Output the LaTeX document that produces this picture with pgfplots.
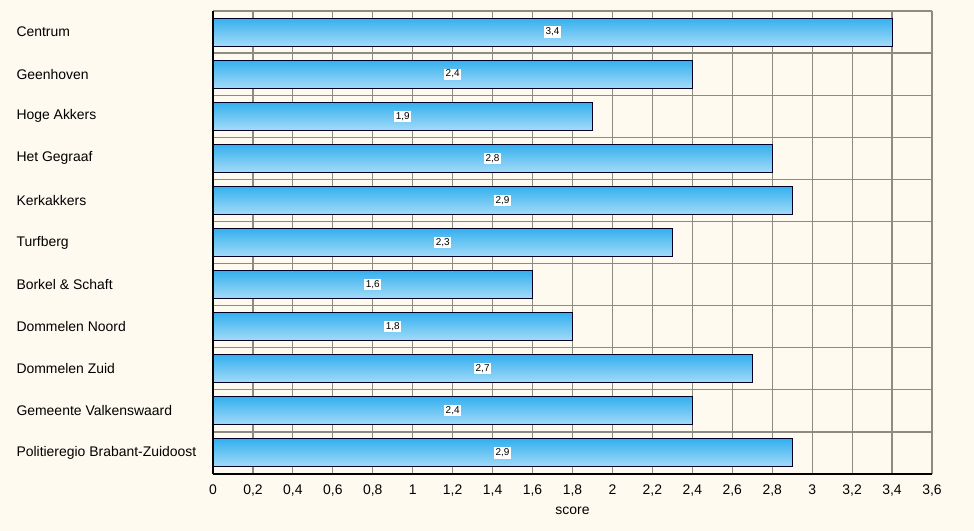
\documentclass[border=0pt]{standalone}
\usepackage{pgfplots}
\pgfplotsset{compat=1.18}
\usepackage{fontspec}
\setmainfont{Liberation Sans}
\definecolor{bg}{RGB}{255,250,240}
\definecolor{gridc}{RGB}{140,140,128}
\definecolor{bartop}{RGB}{52,176,238}
\definecolor{barbot}{RGB}{164,219,248}
\pgfplotsset{
  mybar/.style={xbar, bar width=28bp, bar shift=0pt, draw=black!85!blue, line width=1bp,
    top color=bartop, bottom color=barbot, forget plot,
    nodes near coords, point meta=x,
    visualization depends on={rawx \as \rx},
    nodes near coords style={anchor=center, fill=white, inner sep=1.5bp,
      font=\fontsize{10}{11}\selectfont, xshift={-0.5*\rx*199.722bp},
      /pgf/number format/.cd, use comma, fixed, precision=1, assume math mode=true}},
}
\begin{document}
\begin{tikzpicture}
\fill[bg] (0,0) rectangle (974bp,531bp);
\begin{axis}[
  at={(213bp,57bp)}, anchor=south west,
  scale only axis, width=719bp, height=463bp,
  xmin=0, xmax=3.6, ymin=-0.5, ymax=10.5,
  y dir=reverse,
  axis x line*=bottom, axis y line*=left,
  axis line style={black, line width=1.2bp},
  xtick={0,0.2,...,3.61},
  ytick={0,...,10},
  yticklabels={Centrum,Geenhoven,Hoge Akkers,Het Gegraaf,Kerkakkers,Turfberg,Borkel \& Schaft,Dommelen Noord,Dommelen Zuid,Gemeente Valkenswaard,Politieregio Brabant-Zuidoost},
  minor ytick={-0.5,0.5,...,10.6},
  major tick length=0pt, minor tick length=0pt,
  xmajorgrids, yminorgrids,
  grid style={gridc, line width=1.2bp},
  minor grid style={gridc, line width=1.2bp},
  /pgf/number format/assume math mode=true,
  xticklabel style={font=\fontsize{14}{16}\selectfont, /pgf/number format/use comma, yshift=-7bp},
  yticklabel style={font=\fontsize{14}{16}\selectfont, anchor=west, xshift=-200bp},
  xlabel={score}, xlabel style={font=\fontsize{14}{16}\selectfont, yshift=-4bp},
  clip=false,
]
\addplot[mybar] coordinates {(3.4,0)};
\addplot[mybar] coordinates {(2.4,1)};
\addplot[mybar] coordinates {(1.9,2)};
\addplot[mybar] coordinates {(2.8,3)};
\addplot[mybar] coordinates {(2.9,4)};
\addplot[mybar] coordinates {(2.3,5)};
\addplot[mybar] coordinates {(1.6,6)};
\addplot[mybar] coordinates {(1.8,7)};
\addplot[mybar] coordinates {(2.7,8)};
\addplot[mybar] coordinates {(2.4,9)};
\addplot[mybar] coordinates {(2.9,10)};
\end{axis}
\pgfresetboundingbox
\path (0,0) rectangle (974bp,531bp);
\end{tikzpicture}
\end{document}
